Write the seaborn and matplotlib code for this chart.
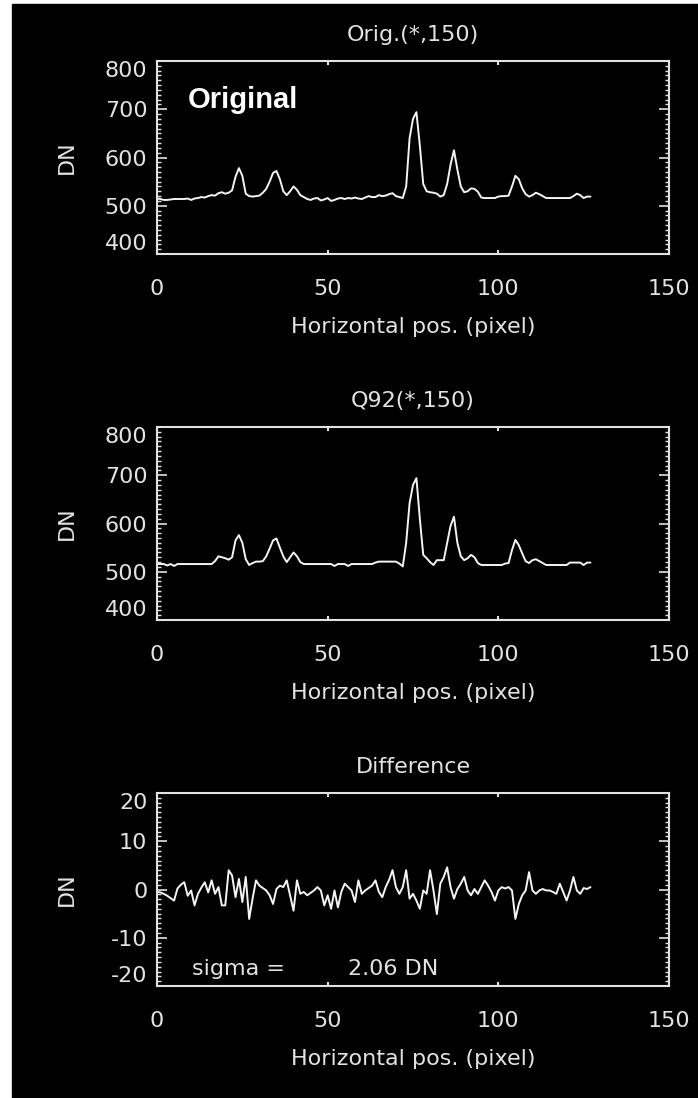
import numpy as np
import pandas as pd
import matplotlib
matplotlib.use("Agg")
import matplotlib.pyplot as plt
from matplotlib.patches import Rectangle
from matplotlib.ticker import MultipleLocator
import seaborn as sns

# row 150 profiles
orig = [515, 514, 512, 512, 513, 514, 514, 514, 514, 515,
        512, 515, 516, 518, 517, 520, 522, 521, 526, 528,
        525, 527, 532, 560, 578, 562, 525, 520, 519, 520,
        521, 527, 535, 550, 568, 572, 555, 530, 522, 530,
        540, 533, 522, 518, 514, 512, 515, 516, 511, 513,
        516, 510, 512, 515, 516, 514, 516, 515, 517, 515,
        514, 517, 520, 518, 518, 522, 520, 521, 524, 526,
        520, 518, 516, 540, 640, 680, 694, 625, 545, 530,
        528, 527, 525, 519, 522, 545, 585, 615, 575, 540,
        528, 530, 536, 535, 529, 517, 516, 516, 516, 516,
        519, 520, 520, 521, 540, 562, 555, 536, 524, 519,
        522, 527, 524, 520, 516, 516, 516, 516, 516, 516,
        516, 516, 520, 525, 522, 516, 519, 519]

q92 = [516, 516, 516, 513, 516, 512, 516, 516, 516, 516,
       516, 516, 516, 516, 516, 516, 516, 522, 532, 530,
       528, 525, 530, 565, 576, 560, 526, 514, 518, 521,
       521, 522, 532, 548, 565, 569, 550, 532, 520, 530,
       540, 532, 520, 516, 516, 516, 516, 516, 516, 516,
       516, 516, 512, 516, 516, 516, 512, 516, 516, 516,
       516, 516, 516, 516, 519, 521, 521, 521, 521, 521,
       521, 517, 511, 560, 642, 680, 694, 610, 535, 528,
       520, 514, 524, 524, 524, 560, 595, 614, 560, 532,
       524, 528, 535, 530, 518, 514, 514, 514, 514, 514,
       514, 514, 517, 518, 545, 566, 555, 538, 522, 518,
       524, 526, 522, 518, 514, 514, 514, 514, 514, 514,
       514, 519, 519, 519, 519, 514, 519, 519]

diff = [-0.5, -0.6, -0.9, -1.3, -1.8, -2.3, 0.2, 1.0, 1.5, -1.3,
        -0.2, -3.3, -0.9, 0.4, 1.5, -0.6, 1.9, -0.9, 0.5, -3.3,
        -3.3, 4.0, 2.9, -1.6, 2.2, -2.6, 2.6, -6.1, -1.9, 1.9,
        0.8, 0.3, -0.2, -1.2, -3.0, 0.1, 0.8, 0.5, 1.9, -1.2,
        -4.4, 1.9, -0.9, -0.5, -1.2, -0.7, -0.2, 0.5, -0.2, -3.3,
        -1.2, -4.0, -0.2, -3.7, -0.5, 1.2, 0.5, -0.2, -2.6, 1.9,
        -0.9, -0.2, 0.3, 0.8, 1.9, -0.5, -1.6, 0.5, 2.0, 4.0,
        0.5, -0.9, 0.5, 4.0, -1.9, -0.9, -2.3, -4.0, -0.2, -0.9,
        4.0, -0.2, -5.1, 1.2, 2.6, 4.6, 0.5, -1.9, 0.1, 1.2,
        2.6, -0.2, -1.2, 0.1, -0.9, 0.5, 1.9, 0.8, -0.5, -2.3,
        -0.2, 0.5, 0.2, 0.5, -0.2, -6.1, -3.0, -1.2, -0.2, 3.6,
        -0.2, -0.9, -0.2, 0.1, -0.2, -0.2, -0.5, -0.9, 1.2, -0.5,
        -2.3, -0.2, 2.6, -0.2, -0.9, 0.3, 0.1, 0.5]

pixel = list(range(len(orig)))

titles = ["Orig.(*,150)", "Q92(*,150)", "Difference"]
xticks = [0, 50, 100, 150]
yticks_profile = [400, 500, 600, 700, 800]
yticks_diff = [-20, -10, 0, 10, 20]
sigma_txt = ["sigma =", "2.06 DN"]

FG = "#e2e2e2"
FS = 16

sns.set_theme(style="ticks", rc={
    "axes.facecolor": "black",
    "axes.edgecolor": FG,
    "axes.linewidth": 1.5,
    "xtick.color": FG,
    "ytick.color": FG,
    "text.color": FG,
    "axes.labelcolor": FG,
})
plt.rcParams["font.family"] = ["DejaVu Sans"]

W, H = 698, 1098
fig = plt.figure(figsize=(W / 100, H / 100), dpi=100)
fig.patch.set_facecolor("white")
fig.add_artist(Rectangle((12 / W, 0), 1 - 12 / W, 1 - 4 / H,
                         transform=fig.transFigure, color="black", zorder=-10))

tops = [61, 427, 793]
box_h = 193
left, box_w = 157, 512

df = pd.DataFrame({"pixel": pixel, "orig": orig, "q92": q92, "diff": diff})
cols = ["orig", "q92", "diff"]

for i, top in enumerate(tops):
    ax = fig.add_axes([left / W, 1 - (top + box_h) / H, box_w / W, box_h / H])
    sns.lineplot(data=df, x="pixel", y=cols[i], ax=ax, color="#f4f4f4",
                 linewidth=1.4, estimator=None)

    ax.set_xlim(0, 150)
    ax.set_xticks(xticks)
    ax.set_xticklabels([str(t) for t in xticks])
    if i < 2:
        ax.set_ylim(400, 800)
        yt = yticks_profile
        ax.yaxis.set_minor_locator(MultipleLocator(10))
    else:
        ax.set_ylim(-20, 20)
        yt = yticks_diff
        ax.yaxis.set_minor_locator(MultipleLocator(1))
    ax.set_yticks(yt)
    ax.set_yticklabels([str(t) for t in yt])

    ax.tick_params(axis="both", which="both", direction="in",
                   top=True, right=True, labelsize=FS, colors=FG)
    ax.tick_params(axis="x", which="major", length=3, width=1.5, pad=18)
    ax.tick_params(axis="y", which="major", length=7, width=1.2, pad=7)
    ax.tick_params(axis="y", which="minor", length=3, width=1.0)

    labels = ax.get_yticklabels()
    labels[0].set_va("bottom")
    labels[-1].set_va("top")

    for s in ax.spines.values():
        s.set_visible(True)
        s.set_color(FG)
        s.set_linewidth(1.5)

    ax.set_ylabel("DN", fontsize=FS)
    ax.yaxis.set_label_coords(-80 / box_w, 0.5)
    ax.set_xlabel("Horizontal pos. (pixel)", fontsize=FS)
    ax.xaxis.set_label_coords(0.5, -63 / box_h)

    ax.text(0.5, 1 + 26 / box_h, titles[i], transform=ax.transAxes,
            ha="center", va="center", fontsize=FS, color=FG)

    if i == 0:
        ax.text(31 / box_w, 0.756, "Original", transform=ax.transAxes,
                ha="left", va="baseline", fontsize=21, fontweight="bold",
                color="white", family=["Liberation Sans", "DejaVu Sans"])
    if i == 2:
        ax.text(35 / box_w, 17 / box_h, sigma_txt[0], transform=ax.transAxes,
                ha="left", va="center", fontsize=FS, color=FG)
        ax.text(191 / box_w, 17 / box_h, sigma_txt[1], transform=ax.transAxes,
                ha="left", va="center", fontsize=FS, color=FG)

fig.savefig("out.png", dpi=100, facecolor=fig.get_facecolor())
